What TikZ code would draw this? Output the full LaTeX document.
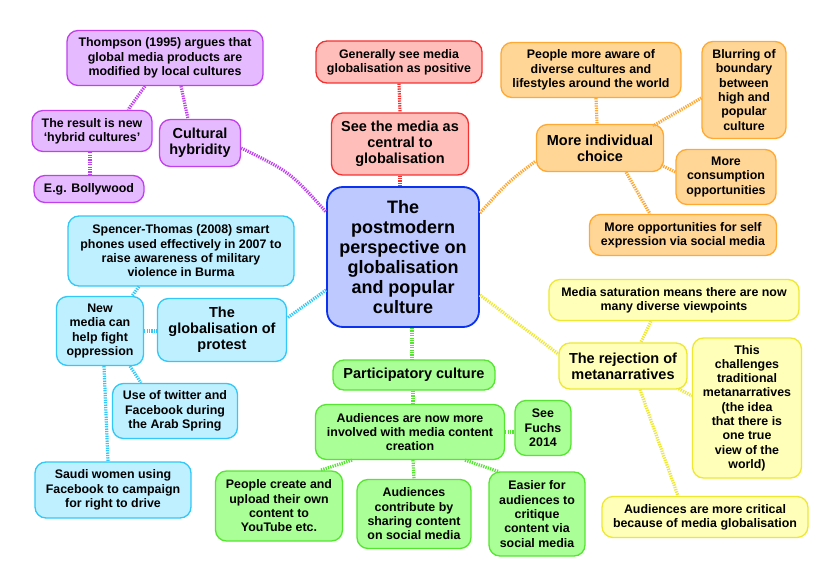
\documentclass[tikz,border=0pt]{standalone}
\usepackage{fontspec}
\setmainfont{Liberation Sans}
\definecolor{purfill}{RGB}{230,186,255}
\definecolor{purline}{RGB}{192,64,240}
\definecolor{redfill}{RGB}{255,190,185}
\definecolor{redline}{RGB}{245,50,50}
\definecolor{bluefill}{RGB}{190,202,255}
\definecolor{blueline}{RGB}{10,50,240}
\definecolor{orafill}{RGB}{255,214,150}
\definecolor{oraline}{RGB}{255,168,50}
\definecolor{cyafill}{RGB}{190,240,255}
\definecolor{cyaline}{RGB}{50,200,248}
\definecolor{grefill}{RGB}{170,255,150}
\definecolor{greline}{RGB}{85,230,50}
\definecolor{yelfill}{RGB}{255,255,185}
\definecolor{yelline}{RGB}{238,232,50}
\newcommand\fS{\fontsize{12.4}{14.3}\selectfont\bfseries}
\newcommand\fM{\fontsize{14.5}{16.2}\selectfont\bfseries}
\newcommand\fL{\fontsize{18}{20}\selectfont\bfseries}
\tikzset{
  box/.style={draw, rounded corners=11pt, line width=1.3pt, align=center, inner sep=1pt, font=\fS, text=black},
  pur/.style={box, fill=purfill, draw=purline},
  red/.style={box, fill=redfill, draw=redline},
  blu/.style={box, fill=bluefill, draw=blueline, line width=1.8pt, rounded corners=16pt},
  ora/.style={box, fill=orafill, draw=oraline},
  cya/.style={box, fill=cyafill, draw=cyaline},
  gre/.style={box, fill=grefill, draw=greline},
  yel/.style={box, fill=yelfill, draw=yelline},
  conn/.style={line width=3.2pt, dash pattern=on 1.3pt off 1.1pt},
  pcon/.style={conn, draw=purline},
  rcon/.style={conn, draw=redline},
  ocon/.style={conn, draw=oraline},
  ccon/.style={conn, draw=cyaline},
  gcon/.style={conn, draw=greline},
  ycon/.style={conn, draw=yelline},
}
\begin{document}
\begin{tikzpicture}[x=1pt,y=-1pt]
\useasboundingbox[fill=white] (0,0) rectangle (840,588);
% central
\node[blu, font=\fL, minimum width=152pt, minimum height=140pt] (central) at (403,257) {The\\postmodern\\perspective on\\globalisation\\and popular\\culture};
% purple
\node[pur, minimum width=196pt, minimum height=55pt] (thompson) at (165,58) {Thompson (1995) argues that\\global media products are\\modified by local cultures};
\node[pur, minimum width=120pt, minimum height=41pt] (result) at (92,131) {The result is new\\‘hybrid cultures’};
\node[pur, font=\fM, minimum width=81pt, minimum height=47pt] (cultural) at (200,143) {Cultural\\hybridity};
\node[pur, minimum width=110pt, minimum height=27pt] (bolly) at (89,189) {E.g. Bollywood};
% red
\node[red, minimum width=166pt, minimum height=42pt] (generally) at (399,62) {Generally see media\\globalisation as positive};
\node[red, font=\fM, minimum width=137pt, minimum height=62pt] (seemedia) at (400,144) {See the media as\\central to\\globalisation};
% orange
\node[ora, minimum width=180pt, minimum height=55pt] (aware) at (591,70) {People more aware of\\diverse cultures and\\lifestyles around the world};
\node[ora, minimum width=84pt, minimum height=97pt] (blurring) at (744,90) {Blurring of\\boundary\\between\\high and\\popular\\culture};
\node[ora, font=\fM, minimum width=127pt, minimum height=47pt] (choice) at (600,148) {More individual\\choice};
\node[ora, minimum width=100pt, minimum height=55pt] (consumption) at (726,177) {More\\consumption\\opportunities};
\node[ora, minimum width=187pt, minimum height=41pt] (opps) at (683,235) {More opportunities for self\\expression via social media};
% cyan
\node[cya, minimum width=226pt, minimum height=70pt] (spencer) at (181,251) {Spencer-Thomas (2008) smart\\phones used effectively in 2007 to\\raise awareness of military\\violence in Burma};
\node[cya, minimum width=87pt, minimum height=69pt] (newmedia) at (100,331) {New\\media can\\help fight\\oppression};
\node[cya, font=\fM, minimum width=129pt, minimum height=63pt] (protest) at (222,330) {The\\globalisation of\\protest};
\node[cya, minimum width=125pt, minimum height=55pt] (twitter) at (175,411) {Use of twitter and\\Facebook during\\the Arab Spring};
\node[cya, minimum width=156pt, minimum height=56pt] (saudi) at (113,490) {Saudi women using\\Facebook to campaign\\for right to drive};
% green
\node[gre, font=\fM, minimum width=162pt, minimum height=30pt] (part) at (414,375) {Participatory culture};
\node[gre, minimum width=189pt, minimum height=55pt] (aud) at (410,432) {Audiences are now more\\involved with media content\\creation};
\node[gre, minimum width=56pt, minimum height=55pt] (fuchs) at (543,428) {See\\Fuchs\\2014};
\node[gre, minimum width=127pt, minimum height=70pt] (create) at (279,506) {People create and\\upload their own\\content to\\YouTube etc.};
\node[gre, minimum width=114pt, minimum height=69pt] (contrib) at (414,514) {Audiences\\contribute by\\sharing content\\on social media};
\node[gre, minimum width=96pt, minimum height=84pt] (easier) at (537,514) {Easier for\\audiences to\\critique\\content via\\social media};
% yellow
\node[yel, minimum width=250pt, minimum height=41pt] (saturation) at (674,300) {Media saturation means there are now\\many diverse viewpoints};
\node[yel, font=\fM, minimum width=128pt, minimum height=46pt] (rejection) at (623,366) {The rejection of\\metanarratives};
\node[yel, minimum width=109pt, minimum height=140pt] (challenges) at (747,408) {This\\challenges\\traditional\\metanarratives\\(the idea\\that there is\\one true\\view of the\\world)};
\node[yel, minimum width=206pt, minimum height=41pt] (critical) at (705,517) {Audiences are more critical\\because of media globalisation};
% connectors purple
\draw[pcon] ([xshift=-20pt]thompson.south) -- ([xshift=36pt]result.north);
\draw[pcon] ([xshift=16pt]thompson.south) -- ([xshift=-12pt]cultural.north);
\draw[pcon] ([xshift=-2pt]result.south) -- ([xshift=1pt]bolly.north);
\draw[pcon] ([yshift=-5pt]cultural.east) .. controls (290,172) .. ([yshift=45pt]central.west);
% red
\draw[rcon] (generally.south) -- (seemedia.north);
\draw[rcon] (seemedia.south) -- ([xshift=-3pt]central.north);
% orange
\draw[ocon] ([yshift=44pt]central.east) .. controls (508,182) .. ([yshift=-13pt]choice.west);
\draw[ocon] ([xshift=5pt]aware.south) -- ([xshift=-3pt]choice.north);
\draw[ocon] ([yshift=-8pt]blurring.west) -- ([xshift=53pt,yshift=-2pt]choice.north);
\draw[ocon] ([xshift=-3pt,yshift=7pt]choice.south east) -- ([yshift=5pt]consumption.west);
\draw[ocon] ([xshift=26pt]choice.south) -- ([xshift=-33pt]opps.north);
% cyan
\draw[ccon] ([yshift=-33pt]central.west) -- ([yshift=12pt]protest.east);
\draw[ccon] ([xshift=-42pt]spencer.south) -- ([xshift=32pt]newmedia.north);
\draw[ccon] (newmedia.east) -- (newmedia.east -| protest.west);
\draw[ccon] ([xshift=30pt]newmedia.south) -- ([xshift=-34pt]twitter.north);
\draw[ccon] ([xshift=4pt]newmedia.south) -- ([xshift=-5pt]saudi.north);
% green
\draw[gcon] ([xshift=9pt]central.south) -- ([xshift=-2pt]part.north);
\draw[gcon] ([xshift=-1pt]part.south) -- ([xshift=3pt]aud.north);
\draw[gcon] (aud.east) -- (aud.east -| fuchs.west);
\draw[gcon] ([xshift=-58pt]aud.south) -- ([xshift=41pt]create.north);
\draw[gcon] ([xshift=3pt]aud.south) -- (contrib.north);
\draw[gcon] ([xshift=55pt]aud.south) -- ([xshift=-39pt]easier.north);
% yellow
\draw[ycon] ([yshift=-38pt]central.east) -- ([yshift=12pt]rejection.west);
\draw[ycon] ([xshift=-23pt]saturation.south) -- ([xshift=18pt]rejection.north);
\draw[ycon] ([xshift=-9pt,yshift=1pt]rejection.south east) -- ([yshift=12pt]challenges.west);
\draw[ycon] ([xshift=17pt]rejection.south) -- ([xshift=-27pt]critical.north);
\end{tikzpicture}
\end{document}
